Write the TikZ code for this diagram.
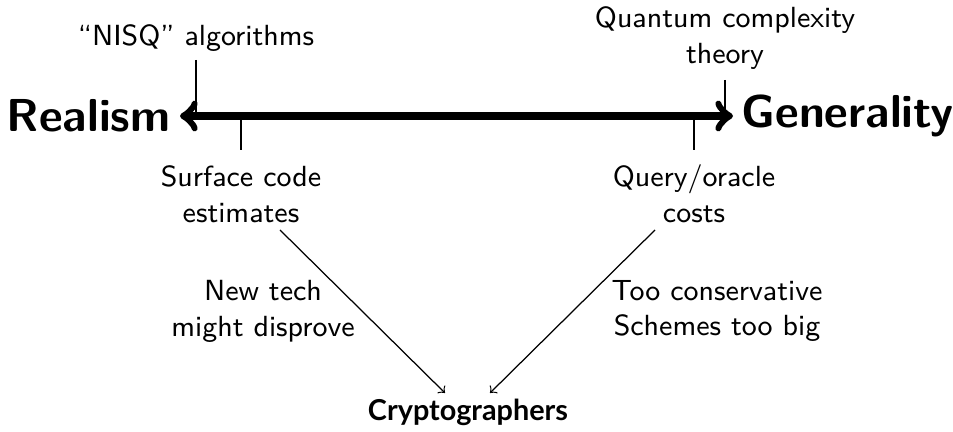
\documentclass[tikz,border=0pt]{standalone}
\usepackage{fontspec}
\newfontfamily\latofont{Lato}
\begin{document}
\begin{tikzpicture}[x=0.3226pt, y=-0.3226pt,
  every node/.style={font=\sffamily\fontsize{9.4}{11.6}\selectfont, align=center, inner sep=0pt},
  endlabel/.style={font=\sffamily\bfseries\fontsize{14.9}{18}\selectfont},
  tick/.style={line width=0.6pt},
  feed/.style={line width=0.4pt, -to}]
\useasboundingbox (0,0) rectangle (953,432);

% the spectrum
\node[endlabel, anchor=east] (real) at (171,116) {Realism};
\node[endlabel, anchor=west] (gen) at (741,116) {Generality};
\coordinate (L) at (180,116);
\coordinate (R) at (733,116);
\draw[line width=2.4pt, <->] (L) -- (R);

% positions on the spectrum
\coordinate (nisqT) at (196,60);
\coordinate (nisqB) at (196,116);
\coordinate (qctT) at (725,80);
\coordinate (qctB) at (725,116);
\coordinate (surfT) at (241,116);
\coordinate (surfB) at (241,150);
\coordinate (queryT) at (694,116);
\coordinate (queryB) at (694,150);
\draw[tick] (nisqT) -- (nisqB);
\draw[tick] (qctT) -- (qctB);
\draw[tick] (surfT) -- (surfB);
\draw[tick] (queryT) -- (queryB);

\node (nisq) at (196,38) {``NISQ''\ algorithms};
\node (qct) at (725,38) {Quantum complexity\\theory};
\node (surf) at (241,194) {Surface code\\estimates};
\node (query) at (694,194) {Query/oracle\\costs};

% consequences for cryptographers
\node (crypto) at (468,412) {\latofont\bfseries\fontsize{9.3}{11}\selectfont Cryptographers};
\coordinate (sA) at (280,230);
\coordinate (sB) at (445,393);
\coordinate (qA) at (655,230);
\coordinate (qB) at (490,393);
\draw[feed] (sA) -- (sB);
\draw[feed] (qA) -- (qB);
\node (newtech) at (263,311) {New tech\\might disprove};
\node (conserv) at (717,311) {Too conservative\\Schemes too big};
\end{tikzpicture}
\end{document}
